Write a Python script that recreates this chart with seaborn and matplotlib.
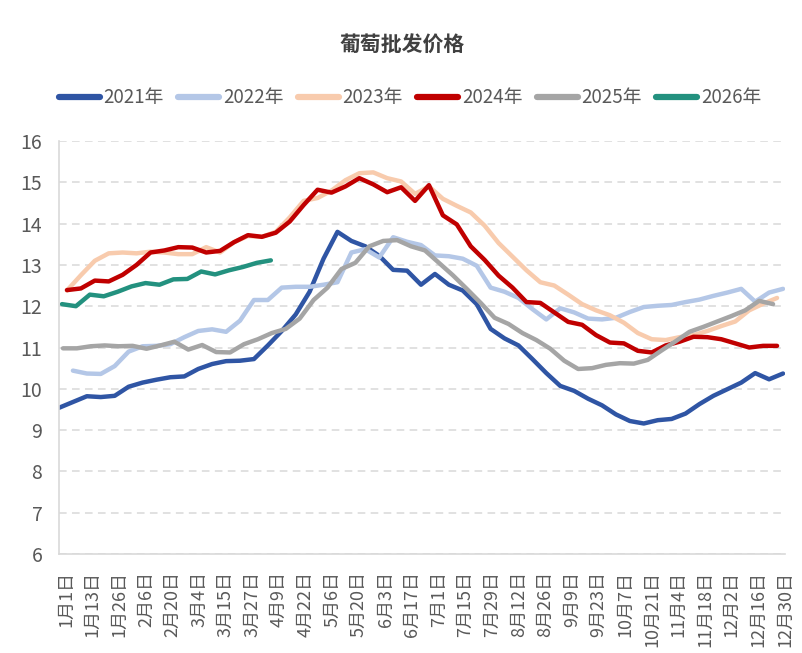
import numpy as np
import pandas as pd
import seaborn as sns
import matplotlib.pyplot as plt
from matplotlib.lines import Line2D

# ---------------- data ----------------
years = ["2021年", "2022年", "2023年", "2024年", "2025年", "2026年"]
colors = ["#2F55A4", "#B4C7E7", "#F8CBAD", "#C00000", "#A5A5A5", "#23917F"]

# first observation (day offset from Jan 1), weekly data afterwards
start_day = [0, 7, 4, 4, 2, 1.5]

p2021 = [9.54, 9.68, 9.82, 9.80, 9.83, 10.05, 10.15, 10.22, 10.28, 10.30, 10.48, 10.60,
         10.67, 10.68, 10.72, 11.05, 11.40, 11.80, 12.35, 13.15, 13.80, 13.58, 13.45, 13.22,
         12.88, 12.86, 12.52, 12.78, 12.52, 12.38, 12.05, 11.45, 11.22, 11.05, 10.72, 10.38,
         10.07, 9.95, 9.76, 9.60, 9.38, 9.22, 9.16, 9.24, 9.27, 9.40, 9.63, 9.83, 9.99,
         10.15, 10.38, 10.23, 10.37]
p2022 = [10.44, 10.37, 10.36, 10.55, 10.90, 11.03, 11.04, 11.08, 11.25, 11.40, 11.44, 11.38,
         11.65, 12.15, 12.15, 12.45, 12.47, 12.47, 12.52, 12.58, 13.30, 13.38, 13.18, 13.67,
         13.56, 13.48, 13.23, 13.21, 13.15, 12.98, 12.45, 12.35, 12.20, 11.93, 11.68, 11.95,
         11.85, 11.70, 11.68, 11.72, 11.86, 11.98, 12.01, 12.03, 12.10, 12.16, 12.25, 12.33,
         12.42, 12.11, 12.33, 12.42]
p2023 = [12.38, 12.75, 13.10, 13.28, 13.30, 13.28, 13.32, 13.30, 13.26, 13.26, 13.43, 13.30,
         13.55, 13.70, 13.68, 13.80, 14.15, 14.55, 14.62, 14.80, 15.05, 15.22, 15.24, 15.10,
         15.02, 14.72, 14.90, 14.60, 14.43, 14.27, 13.95, 13.53, 13.20, 12.87, 12.58, 12.50,
         12.28, 12.05, 11.90, 11.78, 11.60, 11.35, 11.20, 11.18, 11.25, 11.30, 11.40, 11.52,
         11.63, 11.90, 12.06, 12.20]
p2024 = [12.39, 12.43, 12.62, 12.60, 12.76, 13.00, 13.30, 13.35, 13.43, 13.42, 13.30, 13.34,
         13.55, 13.72, 13.68, 13.78, 14.05, 14.45, 14.82, 14.75, 14.90, 15.10, 14.95, 14.76,
         14.88, 14.55, 14.93, 14.20, 13.98, 13.45, 13.12, 12.74, 12.45, 12.10, 12.08, 11.85,
         11.62, 11.55, 11.30, 11.12, 11.10, 10.92, 10.88, 11.05, 11.14, 11.26, 11.25, 11.20,
         11.10, 11.00, 11.04, 11.04]
p2025 = [10.98, 10.98, 11.03, 11.05, 11.03, 11.04, 10.97, 11.05, 11.14, 10.95, 11.06, 10.89,
         10.88, 11.08, 11.20, 11.35, 11.45, 11.70, 12.15, 12.45, 12.90, 13.05, 13.45, 13.58,
         13.60, 13.45, 13.35, 13.05, 12.75, 12.42, 12.08, 11.72, 11.57, 11.35, 11.18, 10.97,
         10.68, 10.48, 10.50, 10.58, 10.62, 10.61, 10.70, 10.93, 11.15, 11.38, 11.50, 11.63,
         11.76, 11.90, 12.13, 12.05]
p2026 = [12.05, 12.00, 12.28, 12.24, 12.35, 12.48, 12.56, 12.52, 12.65, 12.66, 12.84, 12.77,
         12.87, 12.95, 13.05, 13.11]

series = [p2021, p2022, p2023, p2024, p2025, p2026]

xlabels = ["1月1日", "1月13日", "1月26日", "2月6日", "2月20日", "3月4日", "3月15日",
           "3月27日", "4月9日", "4月22日", "5月6日", "5月20日", "6月3日", "6月17日",
           "7月1日", "7月15日", "7月29日", "8月12日", "8月26日", "9月9日", "9月23日",
           "10月7日", "10月21日", "11月4日", "11月18日", "12月2日", "12月16日", "12月30日"]

rows = []
for yr, s0, vals in zip(years, start_day, series):
    for i, v in enumerate(vals):
        rows.append({"year": yr, "day": s0 + 7 * i, "price": v})
df = pd.DataFrame(rows)

# ---------------- plot ----------------
sns.set_theme(style="white")
plt.rcParams["font.family"] = ["Noto Sans CJK SC", "DejaVu Sans"]
plt.rcParams["lines.solid_joinstyle"] = "round"
plt.rcParams["lines.solid_capstyle"] = "round"

fig = plt.figure(figsize=(8.02, 6.53), dpi=100)
ax = fig.add_axes([59 / 802, 1 - 554 / 653, 726 / 802, 413 / 653])

sns.lineplot(data=df, x="day", y="price", hue="year", hue_order=years,
             palette=colors, linewidth=3.2, sort=False, estimator=None,
             legend=False, ax=ax)

ax.set_xlim(0, 365)
ax.set_ylim(6, 16)
ax.set_yticks(range(6, 17))
ax.set_xticks(np.linspace(3.5, 365, len(xlabels)))
ax.set_xticklabels(xlabels, rotation=90)
ax.set_xlabel("")
ax.set_ylabel("")
ax.tick_params(axis="y", length=0, pad=12, labelsize=14, labelcolor="#595959")
ax.tick_params(axis="x", length=0, pad=12, labelsize=13, labelcolor="#595959")

ax.yaxis.grid(True, color="#D9D9D9", linestyle=(0, (5, 3.5)), linewidth=1.1)
ax.xaxis.grid(False)
ax.set_axisbelow(True)
for side in ["top", "right"]:
    ax.spines[side].set_visible(False)
for side in ["left", "bottom"]:
    ax.spines[side].set_color("#D9D9D9")
    ax.spines[side].set_linewidth(1.2)

fig.text(0.502, 1 - 45 / 653, "葡萄批发价格", ha="center", va="center",
         fontsize=15, fontweight="bold", color="#404040")

handles = [Line2D([0], [0], color=c, lw=4.5, solid_capstyle="round") for c in colors]
leg = fig.legend(handles, years, loc="center", bbox_to_anchor=(410 / 802, 1 - 98 / 653),
                 ncol=6, frameon=False, fontsize=13.5, handlelength=2.2,
                 handletextpad=0.2, columnspacing=0.75)
for t in leg.get_texts():
    t.set_color("#595959")

fig.savefig("out.png", dpi=100, facecolor="white")
